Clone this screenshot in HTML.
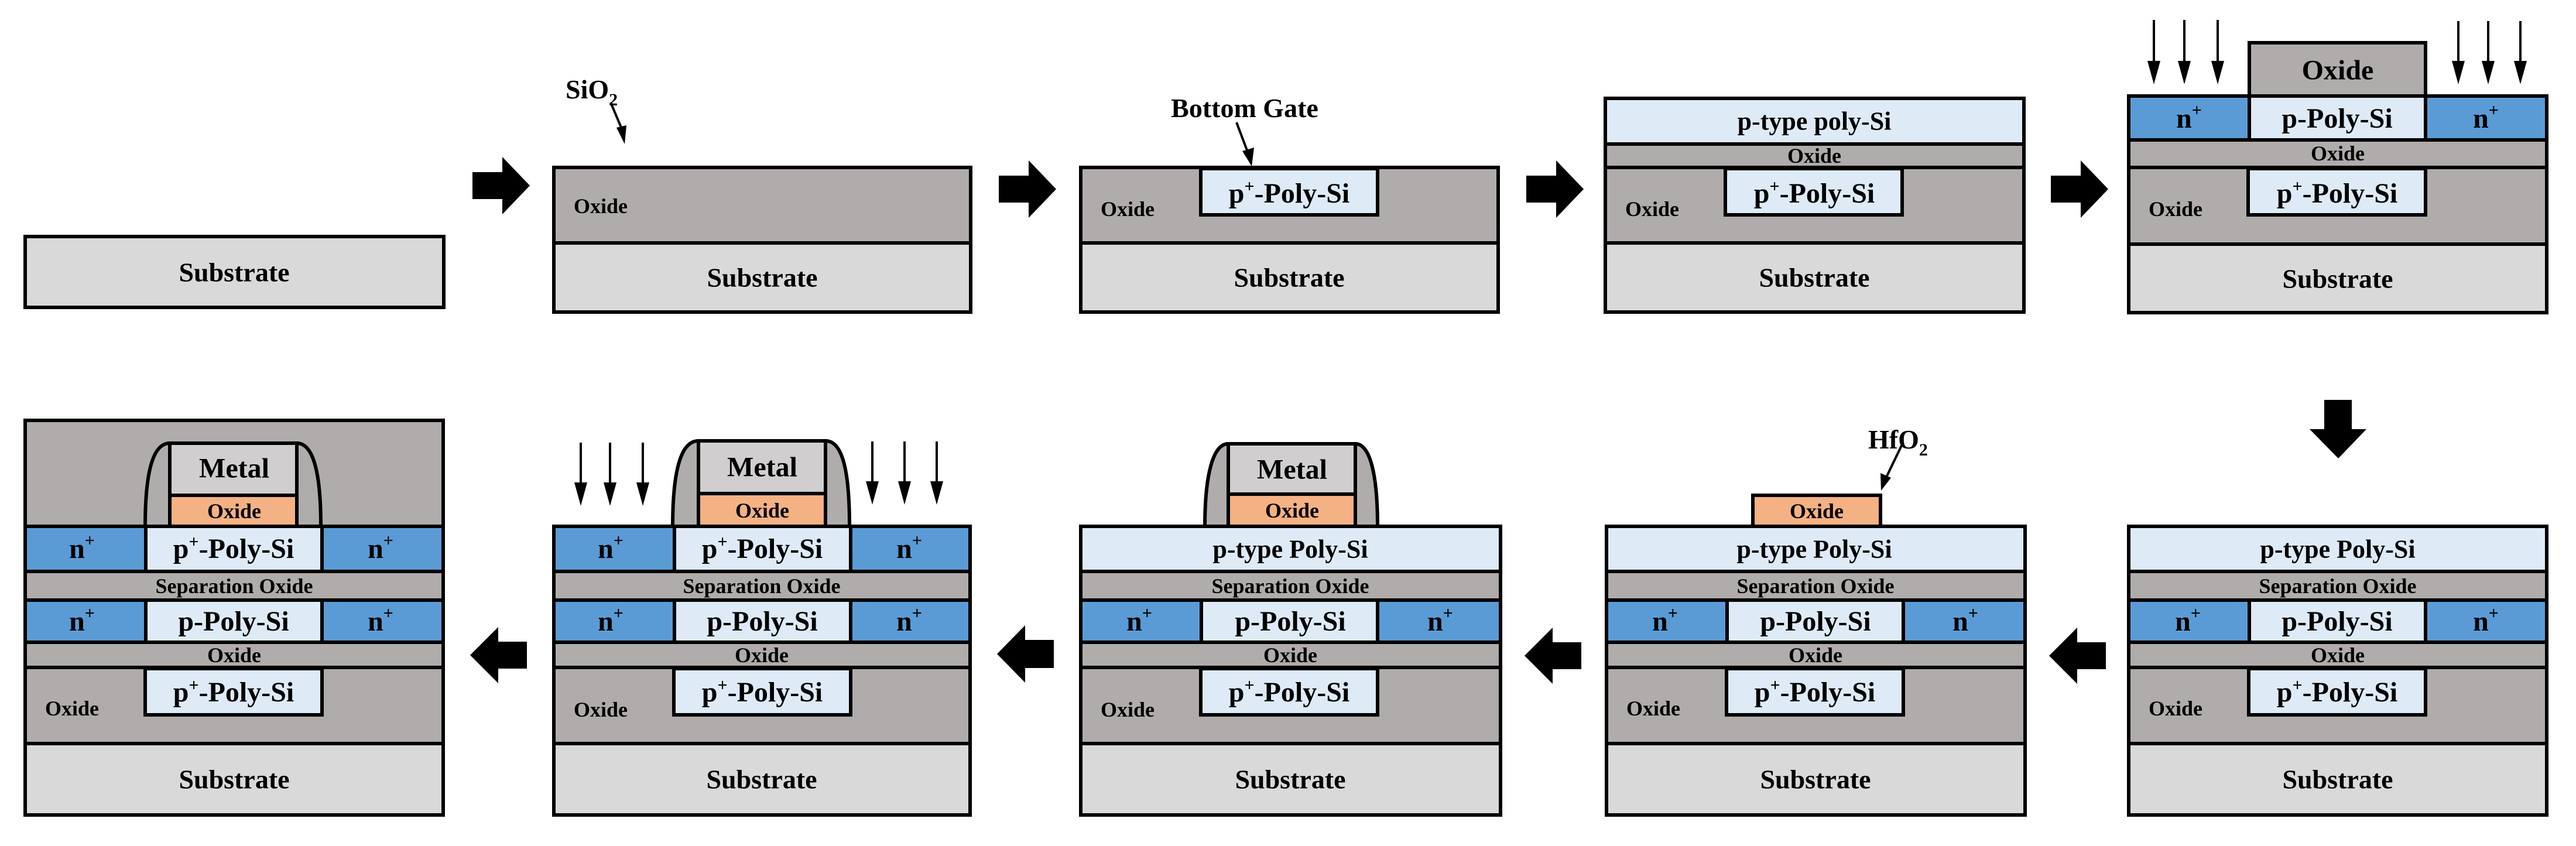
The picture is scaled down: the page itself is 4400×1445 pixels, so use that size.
<!DOCTYPE html>
<html><head><meta charset="utf-8"><style>
html,body{margin:0;padding:0;background:#fff;}
svg{display:block;}
text{font-family:"Liberation Serif",serif;font-weight:bold;fill:#000;}
</style></head><body>
<svg width="4400" height="1445" viewBox="0 0 4400 1445" xmlns="http://www.w3.org/2000/svg">
<g stroke="#000" stroke-width="6" stroke-linejoin="miter">

<!-- P1 -->
<rect x="43" y="404" width="715" height="121" fill="#d9d9d9"/>

<!-- P2 -->
<g transform="translate(946,0)">
<rect x="0" y="286" width="712" height="129" fill="#b0acab"/>
<rect x="0" y="415" width="712" height="118" fill="#d9d9d9"/>
</g>

<!-- P3 -->
<g transform="translate(1846,0)">
<rect x="0" y="286" width="713" height="129" fill="#b0acab"/>
<rect x="0" y="415" width="713" height="118" fill="#d9d9d9"/>
<rect x="205" y="288" width="302" height="79" fill="#deebf7"/>
</g>

<!-- P4 -->
<g transform="translate(2742,0)">
<rect x="0" y="168" width="715" height="78" fill="#deebf7"/>
<rect x="0" y="246" width="715" height="40" fill="#b0acab"/>
<rect x="0" y="286" width="715" height="129" fill="#b0acab"/>
<rect x="0" y="415" width="715" height="118" fill="#d9d9d9"/>
<rect x="205" y="288" width="302" height="79" fill="#deebf7"/>
</g>

<!-- P5 -->
<g transform="translate(3636,0)">
<rect x="206" y="73" width="301" height="91" fill="#b0acab"/>
<rect x="0" y="164" width="206" height="75" fill="#5b9bd5"/>
<rect x="206" y="164" width="301" height="75" fill="#deebf7"/>
<rect x="507" y="164" width="207" height="75" fill="#5b9bd5"/>
<rect x="0" y="239" width="714" height="47" fill="#b0acab"/>
<rect x="0" y="286" width="714" height="131" fill="#b0acab"/>
<rect x="0" y="417" width="714" height="117" fill="#d9d9d9"/>
<rect x="204" y="288" width="303" height="79" fill="#deebf7"/>
</g>

<!-- P10 -->
<g transform="translate(43,0)">
<rect x="0" y="718" width="714" height="181" fill="#b0acab"/>
<path d="M205,899 C205,800 220,757 247,757 L464,757 C490,757 505,800 505,899" fill="#b0acab"/>
<rect x="247" y="757" width="217" height="89" fill="#d0cece"/>
<rect x="247" y="846" width="217" height="53" fill="#f4b183"/>
<rect x="0" y="899" width="206" height="77" fill="#5b9bd5"/>
<rect x="206" y="899" width="301" height="77" fill="#deebf7"/>
<rect x="507" y="899" width="207" height="77" fill="#5b9bd5"/>
<rect x="0" y="976" width="714" height="49" fill="#b0acab"/>
<rect x="0" y="1025" width="206" height="72" fill="#5b9bd5"/>
<rect x="206" y="1025" width="301" height="72" fill="#deebf7"/>
<rect x="507" y="1025" width="207" height="72" fill="#5b9bd5"/>
<rect x="0" y="1097" width="714" height="43" fill="#b0acab"/>
<rect x="0" y="1140" width="714" height="130" fill="#b0acab"/>
<rect x="0" y="1270" width="714" height="122" fill="#d9d9d9"/>
<rect x="205" y="1142" width="302" height="79" fill="#deebf7"/>
</g>

<!-- P9 -->
<g transform="translate(946,0)">
<path d="M203,899 C203,800 218,753 247,753 L464,753 C492,753 505,800 505,899 Z" fill="#b0acab"/>
<rect x="247" y="753" width="217" height="90" fill="#d0cece"/>
<rect x="247" y="843" width="217" height="56" fill="#f4b183"/>
<rect x="0" y="899" width="206" height="77" fill="#5b9bd5"/>
<rect x="206" y="899" width="301" height="77" fill="#deebf7"/>
<rect x="507" y="899" width="204" height="77" fill="#5b9bd5"/>
<rect x="0" y="976" width="711" height="49" fill="#b0acab"/>
<rect x="0" y="1025" width="206" height="72" fill="#5b9bd5"/>
<rect x="206" y="1025" width="301" height="72" fill="#deebf7"/>
<rect x="507" y="1025" width="204" height="72" fill="#5b9bd5"/>
<rect x="0" y="1097" width="711" height="43" fill="#b0acab"/>
<rect x="0" y="1140" width="711" height="130" fill="#b0acab"/>
<rect x="0" y="1270" width="711" height="122" fill="#d9d9d9"/>
<rect x="205" y="1142" width="302" height="79" fill="#deebf7"/>
</g>

<!-- P8 -->
<g transform="translate(1846,0)">
<path d="M212,899 C212,810 226,758 252,758 L469,758 C494,758 507,810 507,899 Z" fill="#b0acab"/>
<rect x="252" y="758" width="217" height="86" fill="#d0cece"/>
<rect x="252" y="844" width="217" height="55" fill="#f4b183"/>
<rect x="0" y="899" width="717" height="77" fill="#deebf7"/>
<rect x="0" y="976" width="717" height="49" fill="#b0acab"/>
<rect x="0" y="1025" width="206" height="72" fill="#5b9bd5"/>
<rect x="206" y="1025" width="301" height="72" fill="#deebf7"/>
<rect x="507" y="1025" width="210" height="72" fill="#5b9bd5"/>
<rect x="0" y="1097" width="717" height="43" fill="#b0acab"/>
<rect x="0" y="1140" width="717" height="130" fill="#b0acab"/>
<rect x="0" y="1270" width="717" height="122" fill="#d9d9d9"/>
<rect x="205" y="1142" width="302" height="79" fill="#deebf7"/>
</g>

<!-- P7 -->
<g transform="translate(2744,0)">
<rect x="250" y="846" width="218" height="53" fill="#f4b183"/>
<rect x="0" y="899" width="715" height="77" fill="#deebf7"/>
<rect x="0" y="976" width="715" height="49" fill="#b0acab"/>
<rect x="0" y="1025" width="206" height="72" fill="#5b9bd5"/>
<rect x="206" y="1025" width="301" height="72" fill="#deebf7"/>
<rect x="507" y="1025" width="208" height="72" fill="#5b9bd5"/>
<rect x="0" y="1097" width="715" height="43" fill="#b0acab"/>
<rect x="0" y="1140" width="715" height="130" fill="#b0acab"/>
<rect x="0" y="1270" width="715" height="122" fill="#d9d9d9"/>
<rect x="205" y="1142" width="302" height="79" fill="#deebf7"/>
</g>

<!-- P6 -->
<g transform="translate(3636,0)">
<rect x="0" y="899" width="714" height="77" fill="#deebf7"/>
<rect x="0" y="976" width="714" height="49" fill="#b0acab"/>
<rect x="0" y="1025" width="206" height="72" fill="#5b9bd5"/>
<rect x="206" y="1025" width="301" height="72" fill="#deebf7"/>
<rect x="507" y="1025" width="207" height="72" fill="#5b9bd5"/>
<rect x="0" y="1097" width="714" height="43" fill="#b0acab"/>
<rect x="0" y="1140" width="714" height="130" fill="#b0acab"/>
<rect x="0" y="1270" width="714" height="122" fill="#d9d9d9"/>
<rect x="205" y="1142" width="302" height="79" fill="#deebf7"/>
</g>
</g>

<!-- block arrows -->
<g fill="#000">
<path d="M807,294 h51 v-26 l47,49 l-47,49 v-26 h-51 z"/>
<path d="M1706,300 h51 v-26 l47,49 l-47,49 v-26 h-51 z"/>
<path d="M2607,300 h51 v-26 l47,49 l-47,49 v-26 h-51 z"/>
<path d="M3503,300 h51 v-26 l47,49 l-47,49 v-26 h-51 z"/>
<path d="M3970,683 h47 v50 h25 l-48,50 l-49,-50 h25 z"/>
<path d="M900,1096 h-49 v-25 l-48,48 l48,48 v-25 h49 z"/>
<path d="M1800,1093 h-49 v-25 l-48,49 l48,49 v-25 h49 z"/>
<path d="M2701,1097 h-49 v-25 l-48,48 l48,48 v-25 h49 z"/>
<path d="M3597,1097 h-49 v-25 l-48,48 l48,48 v-25 h49 z"/>
</g>

<!-- implant arrows -->
<g stroke="#000" stroke-width="4">
<line x1="3679" y1="34" x2="3679" y2="110"/><line x1="3731" y1="34" x2="3731" y2="110"/><line x1="3788" y1="34" x2="3788" y2="110"/>
<line x1="4199" y1="36" x2="4199" y2="110"/><line x1="4250" y1="36" x2="4250" y2="110"/><line x1="4305" y1="36" x2="4305" y2="110"/>
<line x1="992" y1="756" x2="992" y2="830"/><line x1="1042" y1="756" x2="1042" y2="830"/><line x1="1098" y1="756" x2="1098" y2="830"/>
<line x1="1490" y1="754" x2="1490" y2="828"/><line x1="1545" y1="754" x2="1545" y2="828"/><line x1="1600" y1="754" x2="1600" y2="828"/>
<line x1="1043" y1="175" x2="1062" y2="220"/>
<line x1="2112" y1="209" x2="2132" y2="262"/>
<line x1="3249" y1="759" x2="3222" y2="815"/>
</g>
<g fill="#000">
<path d="M3668,104 h22 l-11,40 z"/><path d="M3720,104 h22 l-11,40 z"/><path d="M3777,104 h22 l-11,40 z"/>
<path d="M4188,104 h22 l-11,40 z"/><path d="M4239,104 h22 l-11,40 z"/><path d="M4294,104 h22 l-11,40 z"/>
<path d="M981,824 h22 l-11,40 z"/><path d="M1031,824 h22 l-11,40 z"/><path d="M1087,824 h22 l-11,40 z"/>
<path d="M1479,822 h22 l-11,40 z"/><path d="M1534,822 h22 l-11,40 z"/><path d="M1589,822 h22 l-11,40 z"/>
<path d="M1053,218 l17,-4 l-3,32 z"/>
<path d="M2122,258 l20,-6 l-4,32 z"/>
<path d="M3212,808 l18,8 l-17,22 z"/>
</g>

<!-- labels -->
<g text-anchor="middle" dominant-baseline="central">
<text x="400" y="465" font-size="46">Substrate</text>
<text x="1302" y="474" font-size="46">Substrate</text>
<text x="2202" y="474" font-size="46">Substrate</text>
<text x="3099" y="474" font-size="46">Substrate</text>
<text x="3993" y="476" font-size="46">Substrate</text>
<text x="400" y="1331" font-size="46">Substrate</text>
<text x="1301" y="1331" font-size="46">Substrate</text>
<text x="2204" y="1331" font-size="46">Substrate</text>
<text x="3101" y="1331" font-size="46">Substrate</text>
<text x="3993" y="1331" font-size="46">Substrate</text>

<text x="3099" y="207" font-size="44">p-type poly-Si</text>
<text x="3099" y="266" font-size="36">Oxide</text>
<text x="3993" y="262" font-size="36">Oxide</text>
<text x="3993" y="120" font-size="48">Oxide</text>

<text x="3099" y="938" font-size="44">p-type Poly-Si</text>
<text x="3993" y="938" font-size="44">p-type Poly-Si</text>
<text x="2204" y="938" font-size="44">p-type Poly-Si</text>

<text x="400" y="1001" font-size="36">Separation Oxide</text>
<text x="1301" y="1001" font-size="36">Separation Oxide</text>
<text x="2204" y="1001" font-size="36">Separation Oxide</text>
<text x="3101" y="1001" font-size="36">Separation Oxide</text>
<text x="3993" y="1001" font-size="36">Separation Oxide</text>

<text x="400" y="1119" font-size="36">Oxide</text>
<text x="1301" y="1119" font-size="36">Oxide</text>
<text x="2204" y="1119" font-size="36">Oxide</text>
<text x="3101" y="1119" font-size="36">Oxide</text>
<text x="3993" y="1119" font-size="36">Oxide</text>

<text x="400" y="800" font-size="48">Metal</text>
<text x="400" y="873" font-size="36">Oxide</text>
<text x="1302" y="798" font-size="48">Metal</text>
<text x="1302" y="872" font-size="36">Oxide</text>
<text x="2207" y="802" font-size="48">Metal</text>
<text x="2207" y="872" font-size="36">Oxide</text>
<text x="3103" y="873" font-size="36">Oxide</text>
</g>

<g text-anchor="start" dominant-baseline="central" font-size="36">
<text x="980" y="352">Oxide</text>
<text x="1880" y="357">Oxide</text>
<text x="2776" y="357">Oxide</text>
<text x="3670" y="357">Oxide</text>
<text x="77" y="1210">Oxide</text>
<text x="980" y="1212">Oxide</text>
<text x="1880" y="1212">Oxide</text>
<text x="2778" y="1210">Oxide</text>
<text x="3670" y="1210">Oxide</text>
</g>

<g text-anchor="middle" font-size="48">
<text x="2202" y="346">p<tspan dy="-18" font-size="30">+</tspan><tspan dy="18">-Poly-Si</tspan></text>
<text x="3099" y="346">p<tspan dy="-18" font-size="30">+</tspan><tspan dy="18">-Poly-Si</tspan></text>
<text x="3992" y="346">p<tspan dy="-18" font-size="30">+</tspan><tspan dy="18">-Poly-Si</tspan></text>
<text x="3992" y="218">p-Poly-Si</text>
<text x="3739" y="218">n<tspan dy="-20" font-size="30">+</tspan></text>
<text x="4246" y="218">n<tspan dy="-20" font-size="30">+</tspan></text>

<text x="399" y="1198">p<tspan dy="-18" font-size="30">+</tspan><tspan dy="18">-Poly-Si</tspan></text>
<text x="1302" y="1198">p<tspan dy="-18" font-size="30">+</tspan><tspan dy="18">-Poly-Si</tspan></text>
<text x="2202" y="1198">p<tspan dy="-18" font-size="30">+</tspan><tspan dy="18">-Poly-Si</tspan></text>
<text x="3100" y="1198">p<tspan dy="-18" font-size="30">+</tspan><tspan dy="18">-Poly-Si</tspan></text>
<text x="3992" y="1198">p<tspan dy="-18" font-size="30">+</tspan><tspan dy="18">-Poly-Si</tspan></text>

<text x="399" y="953">p<tspan dy="-18" font-size="30">+</tspan><tspan dy="18">-Poly-Si</tspan></text>
<text x="1302" y="953">p<tspan dy="-18" font-size="30">+</tspan><tspan dy="18">-Poly-Si</tspan></text>
<text x="140" y="953">n<tspan dy="-20" font-size="30">+</tspan></text>
<text x="650" y="953">n<tspan dy="-20" font-size="30">+</tspan></text>
<text x="1043" y="953">n<tspan dy="-20" font-size="30">+</tspan></text>
<text x="1553" y="953">n<tspan dy="-20" font-size="30">+</tspan></text>

<text x="399" y="1077">p-Poly-Si</text>
<text x="1302" y="1077">p-Poly-Si</text>
<text x="2204" y="1077">p-Poly-Si</text>
<text x="3101" y="1077">p-Poly-Si</text>
<text x="3992" y="1077">p-Poly-Si</text>
<text x="140" y="1077">n<tspan dy="-20" font-size="30">+</tspan></text>
<text x="650" y="1077">n<tspan dy="-20" font-size="30">+</tspan></text>
<text x="1043" y="1077">n<tspan dy="-20" font-size="30">+</tspan></text>
<text x="1553" y="1077">n<tspan dy="-20" font-size="30">+</tspan></text>
<text x="1946" y="1077">n<tspan dy="-20" font-size="30">+</tspan></text>
<text x="2460" y="1077">n<tspan dy="-20" font-size="30">+</tspan></text>
<text x="2844" y="1077">n<tspan dy="-20" font-size="30">+</tspan></text>
<text x="3357" y="1077">n<tspan dy="-20" font-size="30">+</tspan></text>
<text x="3737" y="1077">n<tspan dy="-20" font-size="30">+</tspan></text>
<text x="4246" y="1077">n<tspan dy="-20" font-size="30">+</tspan></text>
</g>

<g font-size="46">
<text x="966" y="168">SiO<tspan dy="12" font-size="30">2</tspan></text>
<text x="2126" y="200" text-anchor="middle">Bottom Gate</text>
<text x="3191" y="766">HfO<tspan dy="12" font-size="30">2</tspan></text>
</g>
</svg>
</body></html>
